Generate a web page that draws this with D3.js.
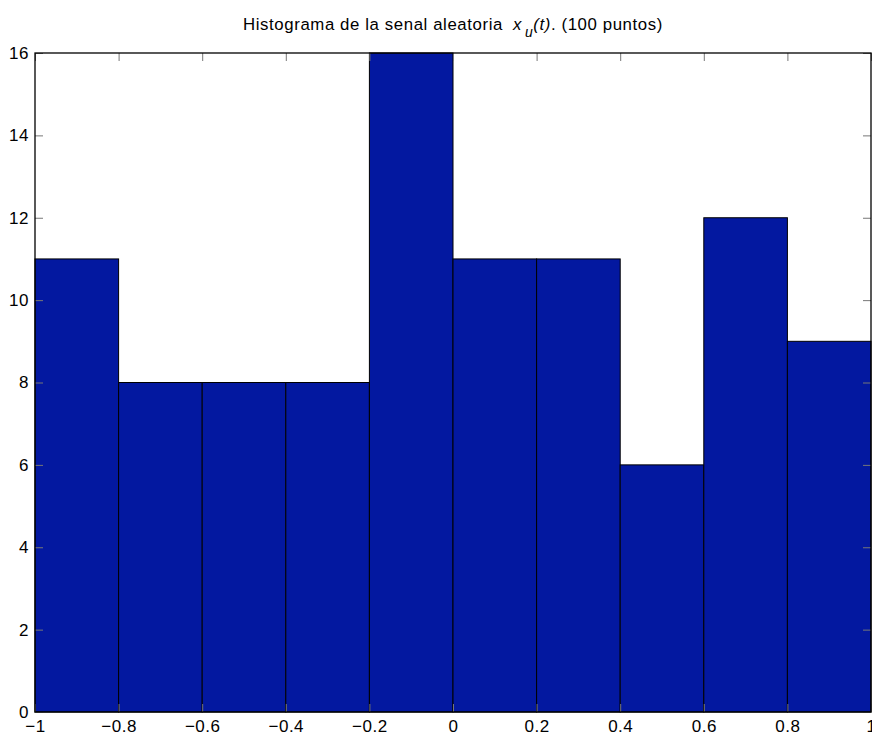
<!DOCTYPE html>
<html lang="en">
<head>
  <meta charset="UTF-8">
  <title>Histograma</title>
  <script src="https://d3js.org/d3.v7.min.js"></script>
  <style>
    body {
      margin: 0;
      background-color: #fff;
      font-family: "Liberation Sans", Arial, sans-serif;
    }
    .tick text {
      font-size: 17px;
      fill: #000;
    }
  </style>
</head>
<body>
<div id="chart"></div>
<script>
  // bin edges and counts
  const binEdges = [-1, -0.8, -0.6, -0.4, -0.2, 0, 0.2, 0.4, 0.6, 0.8, 1];
  const counts = [11, 8, 8, 8, 16, 11, 11, 6, 12, 9];
  const xTicks = [-1, -0.8, -0.6, -0.4, -0.2, 0, 0.2, 0.4, 0.6, 0.8, 1];
  const yTicks = [0, 2, 4, 6, 8, 10, 12, 14, 16];

  const width = 872, height = 736;
  const margin = { top: 53, right: 1, bottom: 24, left: 35 };

  const svg = d3.select("#chart").append("svg")
    .attr("width", width)
    .attr("height", height);

  const x = d3.scaleLinear().domain([-1, 1]).range([margin.left, width - margin.right]);
  const y = d3.scaleLinear().domain([0, 16]).range([height - margin.bottom, margin.top]);

  const bins = counts.map((c, i) => ({ x0: binEdges[i], x1: binEdges[i + 1], n: c }));

  svg.append("g").selectAll("rect")
    .data(bins)
    .enter().append("rect")
    .attr("x", d => x(d.x0))
    .attr("y", d => y(d.n))
    .attr("width", d => x(d.x1) - x(d.x0))
    .attr("height", d => y(0) - y(d.n))
    .attr("fill", "#0318a0")
    .attr("stroke", "#000")
    .attr("stroke-width", 1);

  const fmt = d => d3.format("")(d).replace("-", "\u2212");

  // axes with inward ticks
  const xAxis = svg.append("g")
    .attr("transform", `translate(0,${y(0)})`)
    .call(d3.axisBottom(x).tickValues(xTicks).tickSize(-8).tickPadding(8).tickFormat(fmt));
  const yAxis = svg.append("g")
    .attr("transform", `translate(${x(-1)},0)`)
    .call(d3.axisLeft(y).tickValues(yTicks).tickSize(-8).tickPadding(6).tickFormat(fmt));
  const xTop = svg.append("g")
    .attr("transform", `translate(0,${y(16)})`)
    .call(d3.axisTop(x).tickValues(xTicks).tickSize(-8).tickFormat(""));
  const yRight = svg.append("g")
    .attr("transform", `translate(${x(1)},0)`)
    .call(d3.axisRight(y).tickValues(yTicks).tickSize(-8).tickFormat(""));

  [xAxis, yAxis, xTop, yRight].forEach(g => {
    g.select(".domain").remove();
    g.selectAll(".tick line").attr("stroke", "#777");
    g.selectAll("text").attr("font-family", "Liberation Sans, Arial, sans-serif")
      .attr("letter-spacing", "0.5px");
  });

  // box around plot
  svg.append("rect")
    .attr("x", x(-1))
    .attr("y", y(16))
    .attr("width", x(1) - x(-1))
    .attr("height", y(0) - y(16))
    .attr("fill", "none")
    .attr("stroke", "#000")
    .attr("stroke-width", 1.3);

  // title
  const title = svg.append("text")
    .attr("x", (x(-1) + x(1)) / 2)
    .attr("y", 30)
    .attr("text-anchor", "middle")
    .attr("font-size", "16.8px")
    .attr("letter-spacing", "0.6px")
    .attr("font-family", "Liberation Sans, Arial, sans-serif");
  title.append("tspan").text("Histograma de la senal aleatoria");
  title.append("tspan").attr("font-style", "italic").attr("dx", 10).text("x");
  title.append("tspan").attr("font-style", "italic").attr("font-size", "14px").attr("dx", 3).attr("dy", 7).text("u");
  title.append("tspan").attr("font-style", "italic").attr("dy", -7).text("(t)");
  title.append("tspan").text(". (100 puntos)");
</script>
</body>
</html>
